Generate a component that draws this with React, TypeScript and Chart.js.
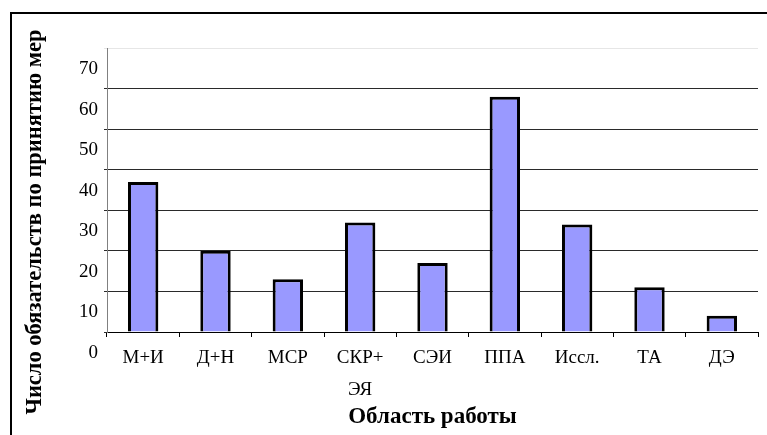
import React, { useEffect, useRef } from "react";
import { Chart, registerables } from "chart.js";

Chart.register(...registerables);

const categories: (string | string[])[] = ["М+И", "Д+Н", "МСР", ["СКР+", "ЭЯ"], "СЭИ", "ППА", "Иссл.", "ТА", "ДЭ"];
const values: number[] = [37, 20, 13, 27, 17, 58, 26.5, 11, 4];
const yTitle = "Число обязательств по принятию мер";
const xTitle = "Область работы";

const SERIF = '"Liberation Serif", "Times New Roman", serif';

const framePlugin = {
  id: "frameAndYTitle",
  afterDraw(chart: any) {
    const ctx = chart.ctx;
    ctx.save();
    ctx.strokeStyle = "#000";
    ctx.lineWidth = 2;
    ctx.strokeRect(11, 13, 1000, 1000);
    ctx.translate(41, 222);
    ctx.rotate(-Math.PI / 2);
    ctx.fillStyle = "#000";
    ctx.font = `bold 22.5px ${SERIF}`;
    ctx.textAlign = "center";
    ctx.textBaseline = "alphabetic";
    ctx.fillText(yTitle, 0, 0);
    ctx.restore();
  },
};

export default function App() {
  const ref = useRef<HTMLCanvasElement | null>(null);
  useEffect(() => {
    document.body.style.margin = "0";
    const chart = new Chart(ref.current as HTMLCanvasElement, {
      type: "bar",
      data: {
        labels: categories,
        datasets: [
          {
            data: values,
            backgroundColor: "#9999FF",
            borderColor: "#000000",
            borderWidth: 3,
            barPercentage: 0.42,
            categoryPercentage: 1,
          },
        ],
      },
      options: {
        animation: false,
        responsive: true,
        maintainAspectRatio: false,
        devicePixelRatio: 1,
        layout: { padding: { left: 0, top: 48, right: 9, bottom: 0 } },
        plugins: { legend: { display: false }, tooltip: { enabled: false } },
        scales: {
          x: {
            offset: true,
            grid: { offset: true, drawOnChartArea: false, tickLength: 5, color: "#000" },
            border: { color: "#000", width: 1 },
            ticks: {
              color: "#000",
              padding: 5,
              maxRotation: 0,
              autoSkip: false,
              font: { family: SERIF, size: 19, lineHeight: 1.7 },
            },
            title: {
              display: true,
              text: xTitle,
              color: "#000",
              font: { family: SERIF, size: 23, weight: "bold" },
              padding: { top: 0, bottom: 4 },
            },
            afterFit(scale: any) {
              scale.height = 103;
            },
          },
          y: {
            min: 0,
            max: 70,
            ticks: {
              stepSize: 10,
              color: "#000",
              padding: 6,
              labelOffset: 21,
              font: { family: SERIF, size: 19 },
            },
            grid: {
              tickLength: 3,
              color: (c: any) => (c.tick && c.tick.value === 70 ? "#e6e6e6" : "#2a2a2a"),
            },
            border: { color: "#808080", width: 1 },
            afterFit(scale: any) {
              scale.width = 107;
            },
          },
        },
      },
      plugins: [framePlugin],
    });
    return () => chart.destroy();
  }, []);
  return (
    <div style={{ position: "fixed", left: 0, top: 0, width: 767, height: 435, overflow: "hidden", background: "#fff" }}>
      <canvas ref={ref} />
    </div>
  );
}
